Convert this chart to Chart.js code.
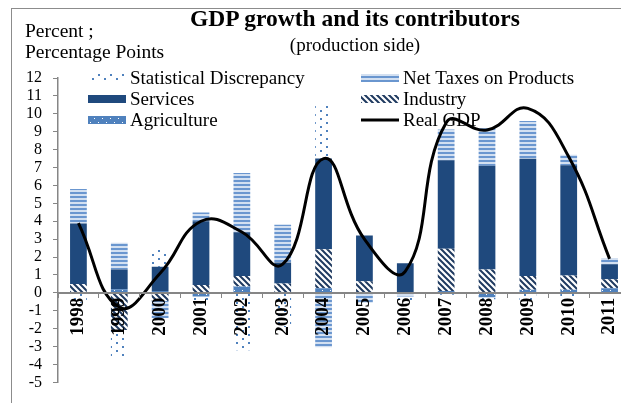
<!DOCTYPE html>
<html>
<head>
<meta charset="utf-8">
<script src="https://cdn.jsdelivr.net/npm/chart.js@4"></script>
<style>
  html, body { margin: 0; padding: 0; background: #fff; overflow: hidden; }
  body { width: 621px; height: 403px; position: relative; font-family: "Liberation Serif", "DejaVu Serif", serif; color: #000; }
  #frame { position: absolute; left: 11px; top: 8px; width: 700px; height: 500px; border-left: 1.5px solid #8c8c8c; border-top: 1.5px solid #8c8c8c; }
  #wrap { position: absolute; left: 0; top: 0; width: 640px; height: 403px; }
  .t { position: absolute; white-space: nowrap; }
  #title { left: 355px; top: 5px; transform: translateX(-50%); font-weight: bold; font-size: 23.5px; }
  #sub { left: 355px; top: 34px; transform: translateX(-50%); font-size: 19px; }
  #unit { left: 25px; top: 20px; font-size: 19.5px; line-height: 21px; }
</style>
</head>
<body>
<div id="frame"></div>
<div id="wrap"><canvas id="c" width="640" height="403"></canvas></div>
<div class="t" id="title">GDP growth and its contributors</div>
<div class="t" id="sub">(production side)</div>
<div class="t" id="unit">Percent ;<br>Percentage Points</div>
<script>
// categories
const years = ['1998','1999','2000','2001','2002','2003','2004','2005','2006','2007','2008','2009','2010','2011'];

// contributions, percentage points
const agriculture   = [0.0, 0.2, 0.1, -0.2, 0.35, 0.0, 0.26, 0.0, -0.05, 0.1, -0.25, 0.17, 0.17, 0.26];
const industry      = [0.49, -2.07, -0.45, 0.44, 0.59, 0.53, 2.18, 0.65, 0.0, 2.36, 1.3, 0.77, 0.8, 0.5];
const services      = [3.39, 1.1, 1.36, 3.56, 2.44, 1.16, 5.06, 2.55, 1.65, 4.94, 5.8, 6.55, 6.16, 0.84];
const netTaxes      = [1.92, 1.5, -0.95, 0.49, 3.31, 2.11, -3.03, -0.55, -0.15, 1.73, 2.09, 2.11, 0.59, 0.35];
const statDiscrep   = [-0.55, -1.53, 1.04, -0.4, -3.2, -1.9, 3.0, 0.0, -0.2, -0.1, -0.1, -0.4, -0.2, 0.0];
const realGDP       = [3.9, -0.8, 1.1, 4.0, 3.4, 1.6, 7.5, 3.0, 1.2, 9.5, 9.1, 10.3, 7.6, 1.9];

// y axis ticks
const yMin = -5, yMax = 12, yStep = 1;

const SERIF = '"Liberation Serif", "DejaVu Serif", serif';
const NAVY = '#1f497d';
const BLUE = '#4f81bd';
const GREY = '#868686';

function makePattern(w, h, draw) {
  const cv = document.createElement('canvas');
  cv.width = w; cv.height = h;
  const g = cv.getContext('2d');
  draw(g);
  return g.createPattern(cv, 'repeat');
}

const taxPattern = makePattern(4, 4, g => {
  g.fillStyle = '#d3e0f1'; g.fillRect(0, 0, 4, 4);
  g.fillStyle = '#6a96cf'; g.fillRect(0, 0, 4, 2);
});
const industryPattern = makePattern(6, 6, g => {
  g.fillStyle = '#ffffff'; g.fillRect(0, 0, 6, 6);
  g.strokeStyle = '#1f3a60'; g.lineWidth = 2;
  g.beginPath();
  g.moveTo(-1, -1); g.lineTo(7, 7);
  g.moveTo(-1, 5); g.lineTo(1, 7);
  g.moveTo(5, -1); g.lineTo(7, 1);
  g.stroke();
});
const agriPattern = makePattern(8, 8, g => {
  g.fillStyle = BLUE; g.fillRect(0, 0, 8, 8);
  g.fillStyle = '#ffffff';
  g.fillRect(2, 2, 1, 1); g.fillRect(6, 6, 1, 1);
});
const discPattern = makePattern(12, 8, g => {
  g.clearRect(0, 0, 12, 8);
  g.fillStyle = BLUE;
  g.fillRect(2, 2, 2, 2); g.fillRect(8, 6, 2, 2);
});

function barSet(label, data, bg) {
  return { type: 'bar', label: label, data: data, backgroundColor: bg, borderWidth: 0,
           stack: 's', order: 1, barPercentage: 0.41, categoryPercentage: 1 };
}

// custom two-column legend drawn inside the plot area (under the line)
const legendLayout = [
  { ds: 4, x: 88,  y: 78 },
  { ds: 3, x: 361, y: 78 },
  { ds: 2, x: 88,  y: 99 },
  { ds: 1, x: 361, y: 99 },
  { ds: 0, x: 88,  y: 120 },
  { ds: 5, x: 361, y: 120 }
];
const legendPlugin = {
  id: 'colLegend',
  beforeDatasetsDraw(chart) {
    const ctx = chart.ctx;
    ctx.save();
    ctx.font = '19px ' + SERIF;
    ctx.textBaseline = 'middle';
    legendLayout.forEach(it => {
      const ds = chart.data.datasets[it.ds];
      if (ds.type === 'line') {
        ctx.strokeStyle = '#000'; ctx.lineWidth = 3;
        ctx.beginPath(); ctx.moveTo(it.x, it.y); ctx.lineTo(it.x + 38, it.y); ctx.stroke();
      } else {
        ctx.fillStyle = ds.backgroundColor;
        ctx.fillRect(it.x, it.y - 4, 38, 8);
      }
      ctx.fillStyle = '#000';
      ctx.fillText(ds.label, it.x + 42, it.y + 1);
    });
    ctx.restore();
  }
};

new Chart(document.getElementById('c'), {
  type: 'bar',
  data: {
    labels: years,
    datasets: [
      barSet('Agriculture', agriculture, agriPattern),
      barSet('Industry', industry, industryPattern),
      barSet('Services', services, NAVY),
      barSet('Net Taxes on Products', netTaxes, taxPattern),
      barSet('Statistical Discrepancy', statDiscrep, discPattern),
      { type: 'line', label: 'Real GDP', data: realGDP, borderColor: '#000', borderWidth: 3,
        pointRadius: 0, tension: 0.45, fill: false, order: 0 }
    ]
  },
  options: {
    responsive: false,
    animation: false,
    devicePixelRatio: 1,
    layout: { padding: { top: 78, right: 10, bottom: 8, left: 0 } },
    plugins: { legend: { display: false }, tooltip: { enabled: false } },
    scales: {
      x: {
        position: { y: 0 },
        stacked: true,
        grid: { drawOnChartArea: false, offset: true, tickLength: 4, color: GREY, lineWidth: 1, z: 1 },
        border: { color: GREY, width: 2, z: 1 },
        ticks: { autoSkip: false, minRotation: 90, maxRotation: 90, padding: 1, z: 1,
                 color: '#000', font: { family: SERIF, size: 19, weight: 'bold' } }
      },
      y: {
        stacked: true,
        min: yMin, max: yMax,
        afterFit: s => { s.width = 58; },
        grid: { drawOnChartArea: false, tickLength: 5, color: GREY },
        border: { color: GREY, width: 1.5 },
        ticks: { stepSize: yStep, autoSkip: false, padding: 11, color: '#000', font: { family: SERIF, size: 16 } }
      }
    }
  },
  plugins: [legendPlugin]
});
</script>
</body>
</html>
